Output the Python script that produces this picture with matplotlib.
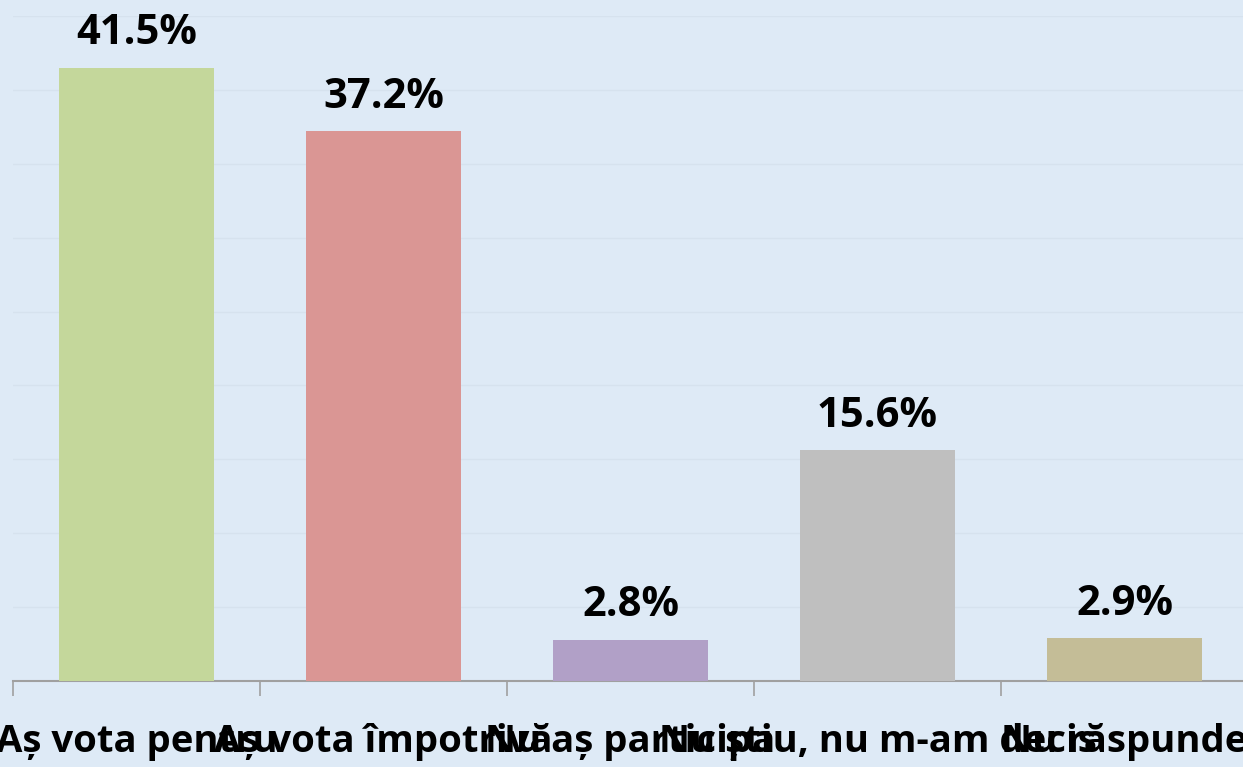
import matplotlib
matplotlib.use("Agg")
import matplotlib.pyplot as plt
from matplotlib.ticker import MultipleLocator, FixedLocator

categories = ["Aș vota pentru", "Aș vota împotrivă", "Nu aș participa",
              "Nu știu, nu m-am decis", "Nu răspunde"]
values = [41.5, 37.2, 2.8, 15.6, 2.9]
value_labels = ["41.5%", "37.2%", "2.8%", "15.6%", "2.9%"]
colors = ["#C4D79B", "#DA9694", "#B1A0C7", "#BFBFBF", "#C4BD97"]

bg = "#DEEAF6"
fig = plt.figure(figsize=(12.43, 7.67), dpi=100, facecolor=bg)
ax = fig.add_axes([13/1243, 1-681/767, 1235/1243, (681-16)/767])
ax.set_facecolor(bg)

x = list(range(len(categories)))
ax.bar(x, values, width=0.63, color=colors, zorder=3)

ax.set_xlim(-0.5, len(categories) - 0.5)
ax.set_ylim(0, 45)
ax.yaxis.set_major_locator(MultipleLocator(5))
ax.grid(axis="y", color="#D6E2EE", linewidth=1, zorder=0)
ax.tick_params(axis="y", left=False, labelleft=False)

for s in ["top", "right", "left"]:
    ax.spines[s].set_visible(False)
ax.spines["bottom"].set_color("#A0A0A0")
ax.spines["bottom"].set_linewidth(1.5)

ax.xaxis.set_major_locator(FixedLocator([i - 0.5 for i in range(len(categories) + 1)]))
ax.xaxis.set_minor_locator(FixedLocator(x))
ax.tick_params(axis="x", which="major", length=11, width=1.2, color="#A0A0A0",
               labelbottom=False)
ax.tick_params(axis="x", which="minor", length=0, pad=30)
ax.set_xticks(x, minor=True)
ax.set_xticklabels(categories, minor=True, fontsize=27.5, fontweight="bold",
                   family="Open Sans", color="black")

for xi, v, lab in zip(x, values, value_labels):
    ax.annotate(lab, (xi, v), xytext=(0, 17), textcoords="offset points",
                ha="center", va="baseline", fontsize=30, fontweight="bold",
                family="Open Sans", color="black")

fig.savefig("out.png", dpi=100, facecolor=bg)
